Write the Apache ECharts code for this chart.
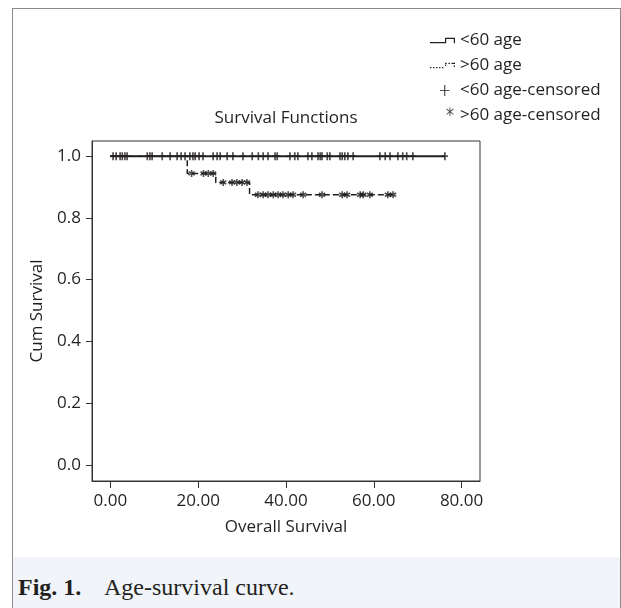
<!DOCTYPE html>
<html lang="en">
<head>
<meta charset="UTF-8" />
<title>Age-survival curve</title>
<script src="https://cdn.jsdelivr.net/npm/echarts@6/dist/echarts.min.js"></script>
<style>
  body { margin: 0; background: #fff; }
  #frame {
    position: absolute; left: 12px; top: 8px; width: 607px; height: 600px;
    border: 1px solid #8a8a8a; border-bottom: none;
  }
  #caption {
    position: absolute; left: 13px; top: 557px; width: 607px; height: 51px;
    background: #f1f4f9; color: #231f20;
    font-family: "Liberation Serif", serif; font-size: 24px; line-height: 28px;
  }
  #caption span.lab { position: absolute; left: 5px; top: 16px; font-weight: bold; }
  #caption span.txt { position: absolute; left: 91px; top: 16px; }
  #chart { position: absolute; left: 0; top: 0; width: 621px; height: 608px; }
</style>
</head>
<body>
<div id="frame"></div>
<div id="caption"><span class="lab">Fig. 1.</span><span class="txt">Age-survival curve.</span></div>
<div id="chart"></div>
<script>
// ticks
const xTicks = [0, 20, 40, 60, 80];
const yTicks = [0, 0.2, 0.4, 0.6, 0.8, 1.0];

// <60 age : no events, survival stays at 1
const under60Time = [0, 76.2];
const under60Surv = [1, 1];
const under60Censored = [0.6, 1.3, 2.2, 2.7, 3.3, 3.8, 8.4, 9.0, 9.5, 11.8, 13.6, 15.2, 16.1, 17.0,
  18.1, 18.8, 19.3, 20.2, 21.1, 23.4, 24.3, 25.0, 26.6, 27.9, 30.2, 32.3, 33.7, 34.8, 35.9, 37.5,
  38.0, 40.9, 42.0, 42.7, 45.0, 45.9, 47.3, 47.8, 48.2, 49.4, 50.0, 52.3, 52.8, 53.4, 54.1, 55.3,
  61.4, 62.6, 63.7, 65.5, 66.6, 67.5, 68.9, 76.2];

// >60 age : three events
const over60Time = [0, 17.5, 24.0, 31.7, 64.6];
const over60Surv = [1, 0.944, 0.915, 0.875, 0.875];
const over60Censored = [18.5, 21.2, 22.3, 23.4, 25.7, 27.7, 28.8, 30.0, 31.1, 33.6, 34.8, 35.9,
  37.1, 38.2, 39.3, 40.5, 41.6, 43.9, 48.2, 52.8, 53.9, 56.9, 57.6, 59.1, 63.2, 64.4];

const names = ['<60 age', '>60 age', '<60 age-censored', '>60 age-censored'];

// survival level at time t
function levelAt(times, surv, t) {
  let s = surv[0];
  for (let i = 0; i < times.length; i++) {
    if (times[i] <= t) s = surv[i];
  }
  return s;
}

const FONT = '"Open Sans", sans-serif';
const INK = '#231f20';
const FS = 17;

const plusSym = 'path://M0,3.8H10V6.2H0Z M3.6,0H6.4V10H3.6Z';
const starSym = 'path://M3.9,0H6.1V10H3.9Z M0.12,3.45L1.22,1.55L9.88,6.55L8.78,8.45Z M0.12,6.55L8.78,1.55L9.88,3.45L1.22,8.45Z';

// legend icons, drawn in a 25x16 frame (tiny corner rects fix the frame)
const corners = 'M0,0H0.01V0.01H0Z M24.99,15.99H25V16H24.99Z ';
const stepIcon = 'path://' + corners + 'M0,9.6H15V5.2H25V10.8H23.8V6.4H16.2V10.8H0Z';
const dotStepIcon = 'path://' + corners +
  'M0,9.6H1.4V10.8H0Z M3,9.6H4.4V10.8H3Z M6,9.6H7.4V10.8H6Z M9,9.6H10.4V10.8H9Z M12,9.6H13.4V10.8H12Z ' +
  'M15,7H16.2V8.6H15Z M15,5.2H16.6V6.4H15Z M18.5,5.2H20V6.4H18.5Z M21.5,5.2H25V6.4H21.5Z M23.8,8H25V9.6H23.8Z';
const plusIcon = 'path://' + corners + 'M10,7.4H19.4V8.6H10Z M14.1,2.5H15.3V13.5H14.1Z';
const starIcon = 'path://' + corners +
  'M19.55,0H20.45V8.4H19.55Z M16.36,1.9L16.81,1.12L23.64,6.5L23.19,7.28Z M16.36,6.5L23.19,1.12L23.64,1.9L16.81,7.28Z';

const chart = echarts.init(document.getElementById('chart'));

chart.setOption({
  animation: false,
  backgroundColor: 'transparent',
  title: {
    text: 'Survival Functions',
    left: 286, top: 107, padding: 0, textAlign: 'center',
    textStyle: { fontFamily: FONT, fontSize: FS, fontWeight: 'normal', color: INK, lineHeight: 22 }
  },
  legend: {
    orient: 'vertical', left: 430, top: 32, padding: 0,
    itemWidth: 25, itemHeight: 16, itemGap: 8,
    symbolKeepAspect: false,
    selectedMode: false,
    textStyle: { fontFamily: FONT, fontSize: FS, color: INK, lineHeight: 16 },
    data: [
      { name: names[0], icon: stepIcon },
      { name: names[1], icon: dotStepIcon },
      { name: names[2], icon: plusIcon },
      { name: names[3], icon: starIcon }
    ]
  },
  grid: {
    left: 92, top: 141, right: 141, bottom: 127,
    show: true, borderColor: '#333', borderWidth: 1, backgroundColor: 'transparent'
  },
  xAxis: {
    type: 'value', min: -4.2, max: 84.2,
    name: 'Overall Survival', nameLocation: 'middle', nameGap: 38,
    nameTextStyle: { fontFamily: FONT, fontSize: FS, color: INK },
    axisLine: { show: true, onZero: false, lineStyle: { color: '#333', width: 1 } },
    axisTick: { show: true, length: 7, customValues: xTicks, lineStyle: { color: '#333' } },
    axisLabel: {
      customValues: xTicks, margin: 12,
      fontFamily: FONT, fontSize: FS, color: INK,
      formatter: v => v.toFixed(2)
    },
    splitLine: { show: false }
  },
  yAxis: {
    type: 'value', min: -0.052, max: 1.049,
    name: 'Cum Survival', nameLocation: 'middle', nameGap: 46,
    nameTextStyle: { fontFamily: FONT, fontSize: FS, color: INK },
    axisLine: { show: true, onZero: false, lineStyle: { color: '#333', width: 1 } },
    axisTick: { show: true, length: 6, customValues: yTicks, lineStyle: { color: '#333' } },
    axisLabel: {
      customValues: yTicks, margin: 11,
      fontFamily: FONT, fontSize: FS, color: INK,
      formatter: v => v.toFixed(1)
    },
    splitLine: { show: false }
  },
  series: [
    {
      name: names[0], type: 'line', step: 'end', symbol: 'none',
      color: INK,
      lineStyle: { color: INK, width: 2 },
      data: under60Time.map((t, i) => [t, under60Surv[i]]),
      z: 3
    },
    {
      name: names[1], type: 'line', step: 'end', symbol: 'none',
      color: INK,
      lineStyle: { color: INK, width: 1.5, type: [6, 3] },
      data: over60Time.map((t, i) => [t, over60Surv[i]]),
      z: 2
    },
    {
      name: names[2], type: 'scatter', symbol: plusSym, symbolSize: [6, 8],
      color: INK, itemStyle: { color: INK },
      data: under60Censored.map(t => [t, levelAt(under60Time, under60Surv, t)]),
      z: 4
    },
    {
      name: names[3], type: 'scatter', symbol: starSym, symbolSize: [7, 7],
      color: INK, itemStyle: { color: INK },
      data: over60Censored.map(t => [t, levelAt(over60Time, over60Surv, t)]),
      z: 4
    }
  ]
});
</script>
</body>
</html>
